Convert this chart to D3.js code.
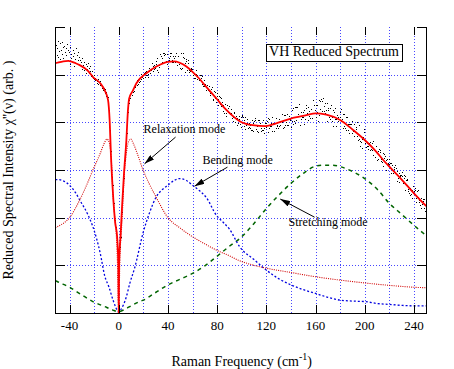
<!DOCTYPE html>
<html lang="en">

<head>
  <meta charset="utf-8">
  <title>VH Reduced Spectrum</title>
  <script src="https://cdn.jsdelivr.net/npm/d3@7/dist/d3.min.js"></script>
  <style>
    body { margin: 0; background: #fff; }
    svg { display: block; font-family: "Liberation Serif", "Times New Roman", serif; }
  </style>
</head>

<body>
  <div id="chart"></div>

  <script type="text/javascript">
    // values (Raman shift in cm-1, intensity in arb. units)
    var xTicks = [-40, 0, 40, 80, 120, 160, 200, 240];
    var xGrid = [-40, -20, 0, 20, 40, 60, 80, 100, 120, 140, 160, 180, 200, 220, 240];
    var yGrid = [1, 2, 3, 4, 5];
    var yTicks = [0, 1, 2, 3, 4, 5, 6];

    // relaxation mode (red dotted)
    var relaxation = [[-51.5, 1.79], [-50, 1.81], [-40, 2.0], [-31.7, 2.37], [-25, 2.75], [-21, 3.0], [-15, 3.35], [-12, 3.55],
      [-9.5, 3.65], [-7.5, 3.55], [-6, 3.2], [-4.9, 2.6], [-3.5, 2.1], [-2, 1.65], [-1.2, 1.2], [0, 0], [1, 1.2], [2, 1.65],
      [3, 2.1], [4.3, 2.8], [6.2, 3.35], [8, 3.6], [9.75, 3.65], [12, 3.55], [15, 3.35], [19.8, 3.0], [25, 2.7], [30, 2.45],
      [40, 2.0], [50, 1.78], [60, 1.6], [70, 1.45], [79.4, 1.32], [90, 1.2], [98, 1.1], [110, 1.0], [120, 0.94], [140, 0.85],
      [160, 0.76], [180, 0.69], [200, 0.63], [220, 0.58], [240, 0.54], [251, 0.53]];

    // bending mode (blue dotted)
    var bending = [[-51.5, 2.8], [-50, 2.8], [-45, 2.77], [-40, 2.68], [-35, 2.52], [-31.7, 2.37], [-25, 2.06], [-21, 1.81],
      [-15, 1.25], [-11.4, 0.78], [-8, 0.55], [-4.6, 0.27], [-0.5, 0.03], [0, 0.02], [1.4, 0.06], [6.2, 0.34], [9, 0.62],
      [13, 0.95], [20, 1.7], [25, 2.1], [30.6, 2.44], [35, 2.58], [40, 2.68], [45, 2.78], [49.6, 2.82], [55, 2.78], [60, 2.68],
      [65, 2.58], [71.3, 2.42], [79.4, 2.05], [85, 1.9], [90, 1.76], [98.3, 1.39], [110, 1.12], [120, 0.9], [130, 0.72],
      [140, 0.59], [150, 0.49], [160, 0.41], [170, 0.33], [180, 0.27], [190, 0.25], [200, 0.24], [210, 0.2], [220, 0.18],
      [230, 0.16], [240, 0.15], [251, 0.15]];

    // stretching mode (green dashed)
    var stretching = [[-51.5, 0.68], [-50, 0.66], [-40, 0.54], [-30, 0.38], [-21, 0.24], [-10, 0.12], [-4.6, 0.06], [0, 0.03],
      [5, 0.08], [10, 0.15], [17, 0.24], [20, 0.27], [30, 0.43], [40, 0.59], [50, 0.71], [60, 0.83], [70, 0.99], [79.4, 1.18],
      [90, 1.4], [98.3, 1.56], [110, 1.88], [120, 2.19], [130, 2.47], [140, 2.72], [150, 2.93], [160, 3.08], [167, 3.1],
      [174, 3.1], [180, 3.07], [190, 2.97], [200, 2.82], [210, 2.6], [220, 2.3], [230, 2.07], [240, 1.84], [251, 1.6]];

    // total fit (red solid)
    var fitTotal = [[-51.5, 5.24], [-50, 5.25], [-45, 5.28], [-41, 5.29], [-35, 5.24], [-31.7, 5.2], [-25, 5.08], [-20.9, 4.95],
      [-15, 4.82], [-11.4, 4.67], [-8.7, 4.47], [-7.3, 4.0], [-6.3, 3.3], [-4.9, 2.6], [-2.9, 1.9], [-1.3, 1.6], [-0.3, 1.0],
      [0, 0], [0.3, 1.0], [1.6, 1.67], [2.7, 2.23], [4.3, 2.93], [6.2, 3.62], [7.5, 4.25], [8.5, 4.5], [11.6, 4.67],
      [14.4, 4.82], [22.5, 5.03], [30.6, 5.17], [40, 5.27], [45, 5.28], [49.6, 5.25], [55, 5.17], [60, 5.06], [65, 4.93],
      [71, 4.75], [79.4, 4.5], [87.5, 4.26], [98, 4.03], [109, 3.94], [119.5, 3.92], [128, 3.98], [140, 4.08], [152.6, 4.15],
      [160, 4.19], [168.8, 4.16], [180, 4.05], [190.5, 3.84], [200, 3.63], [209.5, 3.38], [215, 3.21], [220, 3.07], [230, 2.8],
      [240, 2.51], [250, 2.24]];

    // measured spectrum (black dots)
    var spectrum = [
      [-51, 5.62], [-50.5, 5.41], [-50, 5.55], [-49.5, 5.71], [-49, 5.38], [-48.5, 5.49], [-48, 5.66], [-47.5, 5.33], [-47, 5.52],
      [-46.5, 5.44], [-46, 5.69], [-45.5, 5.58], [-45, 5.36], [-44.5, 5.61], [-44, 5.47], [-43.5, 5.29], [-43, 5.55], [-42.5, 5.42],
      [-42, 5.64], [-41.5, 5.52], [-41, 5.31], [-40.5, 5.47], [-40, 5.22], [-39.5, 5.58], [-39, 5.36], [-38.5, 5.44], [-38, 5.27],
      [-37.5, 5.51], [-37, 5.39], [-36.5, 5.19], [-36, 5.46], [-35.5, 5.33], [-35, 5.55], [-34.5, 5.24], [-34, 5.41], [-33.5, 5.3],
      [-33, 5.48], [-32.5, 5.21], [-32, 5.37], [-31.5, 5.31], [-31, 5.18], [-30.5, 5.27], [-30, 5.12], [-29.5, 5.35], [-29, 5.2],
      [-28.5, 5.09], [-28, 5.26], [-27.5, 5.15], [-27, 5.22], [-26.5, 5.04], [-26, 5.19], [-25.5, 5.11], [-25, 5.24], [-24.5, 5.03],
      [-24, 5.14], [-23.5, 5.08], [-23, 5.19], [-22.5, 4.98], [-22, 5.07], [-21.5, 4.99], [-21, 4.93], [-20.5, 4.91], [-20, 4.99],
      [-19.5, 4.88], [-19, 4.93], [-18.5, 4.9], [-18, 4.82], [-17.5, 4.86], [-17, 4.91], [-16.5, 4.8], [-16, 4.84], [-15.5, 4.78],
      [-15, 4.86], [-14.5, 4.8], [-14, 4.73], [-13.5, 4.77], [-13, 4.74], [-12.5, 4.68], [-12, 4.72], [-11.5, 4.7], [-11, 4.61],
      [-10.5, 4.63], [-10, 4.55], [-9.5, 4.49], [-9, 4.53], [-8.5, 4.37], [-8, 4.26], [-7.5, 4.03], [-7, 3.83], [-6.5, 3.4],
      [-6, 3.19], [-5.5, 2.86], [-5, 2.69], [-4.5, 2.43], [-4, 2.3], [-3.5, 2.07], [-3, 1.96], [-2.5, 1.8], [-2, 1.75],
      [-1.5, 1.61], [-1, 1.48], [-0.5, 1.25], [-0.25, 0.8], [0.25, 0.7], [0.5, 1.3],
      [1, 1.38], [1.5, 1.6], [2, 1.94], [2.5, 2.12], [3, 2.4], [3.5, 2.55], [4, 2.83], [4.5, 2.97], [5, 3.22], [5.5, 3.33],
      [6, 3.58], [6.5, 3.77], [7, 4.07], [7.5, 4.22], [8, 4.41], [8.5, 4.47], [9, 4.57], [9.5, 4.52], [10, 4.62], [10.5, 4.57],
      [11, 4.68], [11.5, 4.64], [12, 4.73], [12.5, 4.66], [13, 4.77], [13.5, 4.74], [14, 4.83], [14.5, 4.78], [15, 4.88],
      [15.5, 4.81], [16, 4.9], [16.5, 4.84], [17, 4.93], [17.5, 4.86], [18, 5.02], [18.5, 4.9], [19, 4.95], [19.5, 4.99],
      [20, 4.92], [20.5, 5.04], [21, 4.96], [21.5, 5.06], [22, 4.99], [22.5, 5.08], [23, 5.0], [23.5, 4.96], [24, 5.02],
      [24.5, 5.07], [25, 5.13], [25.5, 5.03], [26, 5.12], [26.5, 5.09], [27, 5.25], [27.5, 5.07], [28, 5.19], [28.5, 5.11],
      [29, 5.2], [29.5, 5.13], [30, 5.22],
      [30.5, 5.29], [31, 5.1], [31.5, 5.36], [32, 5.06], [32.5, 5.17], [33, 5.21], [33.5, 5.44], [34, 5.4], [34.5, 5.4],
      [35, 5.36], [35.5, 5.27], [36, 5.46], [36.5, 5.42], [37, 5.46], [37.5, 5.27], [38, 5.44], [38.5, 5.29], [39, 5.44],
      [39.5, 5.22], [40, 5.14], [40.5, 5.31], [41, 5.35], [41.5, 5.46], [42, 5.39], [42.5, 5.46], [43, 5.27], [43.5, 5.31],
      [44, 5.27], [44.5, 5.39], [45, 5.35], [45.5, 5.39], [46, 5.27], [46.5, 5.46], [47, 5.2], [47.5, 5.2], [48, 5.4],
      [48.5, 5.4], [49, 5.22], [49.5, 5.14], [50, 5.25], [50.5, 5.11], [51, 5.45], [51.5, 5.15], [52, 5.37], [52.5, 5.45],
      [53, 5.36], [53.5, 5.06], [54, 5.25], [54.5, 5.32], [55, 5.29], [55.5, 5.09], [56, 5.31], [56.5, 5.24], [57, 5.09],
      [57.5, 5.05], [58, 5.07], [58.5, 5.15], [59, 5.11], [59.5, 5.11], [60, 5.26],
      [60.5, 5.0], [61, 4.94], [61.5, 5.01], [62, 4.92], [62.5, 5.01], [63, 5.1], [63.5, 4.9], [64, 5.0], [64.5, 4.96],
      [65, 4.89], [65.5, 4.93], [66, 4.99], [66.5, 5.0], [67, 4.94], [67.5, 4.98], [68, 4.8], [68.5, 4.76], [69, 4.77],
      [69.5, 4.89], [70, 4.77], [70.5, 4.8], [71, 4.68], [71.5, 4.78], [72, 4.71], [72.5, 4.67], [73, 4.65], [73.5, 4.77],
      [74, 4.62], [74.5, 4.58], [75, 4.7], [75.5, 4.74], [76, 4.61], [76.5, 4.47], [77, 4.5], [77.5, 4.65], [78, 4.63],
      [78.5, 4.51], [79, 4.42], [79.5, 4.62], [80, 4.55], [80.5, 4.37], [81, 4.49], [81.5, 4.56], [82, 4.38], [82.5, 4.53],
      [83, 4.51], [83.5, 4.34], [84, 4.43], [84.5, 4.36], [85, 4.24], [85.5, 4.2], [86, 4.31], [86.5, 4.38], [87, 4.2],
      [87.5, 4.14], [88, 4.37], [88.5, 4.31], [89, 4.22], [89.5, 4.34], [90, 4.2], [90.5, 4.18], [91, 4.19], [91.5, 4.29],
      [92, 4.09], [92.5, 4.11], [93, 4.02], [93.5, 4.2], [94, 4.21], [94.5, 4.01], [95, 4.13], [95.5, 4.07], [96, 3.95],
      [96.5, 4.1], [97, 3.98], [97.5, 4.13], [98, 4.07], [98.5, 3.96], [99, 3.9], [99.5, 4.11], [100, 4.13],
      [100.5, 4.15], [101, 4.12], [101.5, 4.05], [102, 3.92], [102.5, 4.12], [103, 3.85], [103.5, 3.95], [104, 3.98],
      [104.5, 4.08], [105, 3.88], [105.5, 3.98], [106, 3.91], [106.5, 3.94], [107, 3.88], [107.5, 3.84], [108, 3.84],
      [108.5, 4.04], [109, 3.81], [109.5, 3.99], [110, 4.02], [110.5, 4.09], [111, 4.05], [111.5, 3.85], [112, 3.82],
      [112.5, 3.92], [113, 4.05], [113.5, 3.79], [114, 4.05], [114.5, 3.98], [115, 3.94], [115.5, 3.81], [116, 3.88],
      [116.5, 3.84], [117, 4.04], [117.5, 3.84], [118, 3.88], [118.5, 3.78], [119, 3.98], [119.5, 3.98], [120, 3.91],
      [120.5, 4.02], [121, 3.79], [121.5, 4.09], [122, 3.89], [122.5, 4.06], [123, 3.92], [123.5, 3.92], [124, 3.99],
      [124.5, 3.82], [125, 4.12], [125.5, 3.99], [126, 3.99], [126.5, 3.82], [127, 3.99], [127.5, 4.09], [128, 3.89],
      [128.5, 3.92], [129, 3.95], [129.5, 3.88], [130, 4.08], [130.5, 3.92], [131, 4.02], [131.5, 3.95], [132, 4.02],
      [132.5, 4.18], [133, 4.01], [133.5, 3.88], [134, 4.15], [134.5, 3.91], [135, 3.95], [135.5, 4.15], [136, 4.01],
      [136.5, 4.18], [137, 3.94], [137.5, 3.94], [138, 3.94], [138.5, 4.14], [139, 4.04], [139.5, 4.08], [140, 3.91],
      [140.5, 4.02], [141, 4.26], [141.5, 3.97], [142, 4.31], [142.5, 4.02], [143, 4.33], [143.5, 3.99], [144, 4.33],
      [144.5, 4.04], [145, 4.33], [145.5, 4.14], [146, 4.18], [146.5, 4.38], [147, 3.94], [147.5, 4.14], [148, 4.21],
      [148.5, 4.07], [149, 4.12], [149.5, 4.21], [150, 4.12], [150.5, 4.26], [151, 3.97], [151.5, 4.07], [152, 4.36],
      [152.5, 4.31], [153, 4.19], [153.5, 4.33], [154, 4.04], [154.5, 4.14], [155, 4.23], [155.5, 4.09], [156, 4.28],
      [156.5, 4.28], [157, 4.09], [157.5, 4.19], [158, 4.46], [158.5, 4.36], [159, 4.36], [159.5, 4.26], [160, 4.36],
      [160.5, 4.12], [161, 4.22], [161.5, 4.36], [162, 4.02], [162.5, 4.46], [163, 4.15], [163.5, 4.29], [164, 4.44],
      [164.5, 4.5], [165, 4.44], [165.5, 4.24], [166, 4.52], [166.5, 4.24], [167, 4.34], [167.5, 4.2], [168, 4.41],
      [168.5, 4.26], [169, 4.03], [169.5, 4.41], [170, 4.26], [170.5, 4.31], [171, 4.12], [171.5, 4.07], [172, 4.31],
      [172.5, 4.36], [173, 4.02], [173.5, 4.12], [174, 3.92], [174.5, 4.26], [175, 4.21], [175.5, 4.31], [176, 4.07],
      [176.5, 3.92], [177, 4.07], [177.5, 4.16], [178, 4.02], [178.5, 4.11], [179, 4.07], [179.5, 4.21], [180, 4.11],
      [180.5, 4.27], [181, 4.03], [181.5, 4.07], [182, 4.17], [182.5, 3.88], [183, 3.93], [183.5, 4.17], [184, 3.88],
      [184.5, 3.83], [185, 4.12], [185.5, 4.12], [186, 3.97], [186.5, 3.83], [187, 3.97], [187.5, 3.78], [188, 3.97],
      [188.5, 3.97], [189, 3.88], [189.5, 3.78], [190, 4.02], [190.5, 3.82], [191, 3.72], [191.5, 3.96], [192, 3.82],
      [192.5, 3.91], [193, 3.86], [193.5, 3.72], [194, 4.01], [194.5, 3.62], [195, 3.95], [195.5, 3.66], [196, 3.61],
      [196.5, 3.51], [197, 3.58], [197.5, 3.66], [198, 3.46], [198.5, 3.7], [199, 3.86], [199.5, 3.8], [200, 3.56],
      [200.5, 3.6], [201, 3.49], [201.5, 3.57], [202, 3.5], [202.5, 3.45], [203, 3.5], [203.5, 3.56], [204, 3.58],
      [204.5, 3.43], [205, 3.45], [205.5, 3.57], [206, 3.42], [206.5, 3.31], [207, 3.6], [207.5, 3.45], [208, 3.27],
      [208.5, 3.39], [209, 3.51], [209.5, 3.5], [210, 3.22], [210.5, 3.24], [211, 3.39], [211.5, 3.44], [212, 3.42],
      [212.5, 3.37], [213, 3.19], [213.5, 3.24], [214, 3.16], [214.5, 3.08], [215, 3.36], [215.5, 3.25], [216, 3.33],
      [216.5, 3.29], [217, 3.0], [217.5, 3.22], [218, 3.24], [218.5, 3.13], [219, 3.15], [219.5, 3.23], [220, 3.12],
      [220.5, 3.14], [221, 2.93], [221.5, 3.15], [222, 3.1], [222.5, 3.02], [223, 2.94], [223.5, 3.06], [224, 3.02],
      [224.5, 3.1], [225, 2.92], [225.5, 3.04], [226, 2.76], [226.5, 2.98], [227, 2.83], [227.5, 2.75], [228, 2.94],
      [228.5, 2.89], [229, 2.88], [229.5, 2.9], [230, 2.95], [230.5, 2.87], [231, 2.72], [231.5, 2.84], [232, 2.89],
      [232.5, 2.88], [233, 2.57], [233.5, 2.79], [234, 2.8], [234.5, 2.82], [235, 2.61], [235.5, 2.56], [236, 2.51],
      [236.5, 2.63], [237, 2.48], [237.5, 2.5], [238, 2.42], [238.5, 2.57], [239, 2.66], [239.5, 2.51], [240, 2.56],
      [240.5, 2.58], [241, 2.63], [241.5, 2.32], [242, 2.41], [242.5, 2.56], [243, 2.58], [243.5, 2.44], [244, 2.32],
      [244.5, 2.38], [245, 2.26], [245.5, 2.42], [246, 2.2], [246.5, 2.29], [247, 2.34], [247.5, 2.39], [248, 2.21],
      [248.5, 2.4], [249, 2.15], [249.5, 2.24], [250, 2.29]];

    // annotation labels and arrows, in data units
    var notes = [
      { text: "Relaxation mode", x: 20.2, y: 3.78, from: [46.2, 3.69], to: [21, 3.13] },
      { text: "Bending mode", x: 68.1, y: 3.13, from: [88.4, 3.06], to: [61.6, 2.66] },
      { text: "Stretching mode", x: 138.1, y: 1.83, from: [159.2, 2.01], to: [131.3, 2.39] }
    ];

    var width = 454, height = 369;
    var margin = { top: 27, right: 27, bottom: 56, left: 55 };

    var svg = d3.select("#chart").append("svg")
      .attr("width", width)
      .attr("height", height);

    var x = d3.scaleLinear()
      .domain([-51.8, 250.6])
      .range([margin.left, width - margin.right]);
    var y = d3.scaleLinear()
      .domain([0, 6])
      .range([height - margin.bottom, margin.top]);

    var x0 = x.range()[0], x1 = x.range()[1];
    var y0 = y.range()[0], y1 = y.range()[1];

    var defs = svg.append("defs");
    defs.append("clipPath").attr("id", "plot")
      .append("rect")
      .attr("x", x0).attr("y", y1)
      .attr("width", x1 - x0).attr("height", y0 - y1);
    defs.append("marker")
      .attr("id", "head")
      .attr("markerUnits", "userSpaceOnUse")
      .attr("viewBox", "0 0 10 6")
      .attr("refX", 10).attr("refY", 3)
      .attr("markerWidth", 10).attr("markerHeight", 6)
      .attr("orient", "auto")
      .append("path")
      .attr("d", "M0,0L10,3L0,6Z")
      .attr("fill", "#000");

    // grid
    svg.append("g").selectAll("line")
      .data(xGrid)
      .enter().append("line")
      .attr("x1", function (d) { return Math.round(x(d)) + 0.5; })
      .attr("x2", function (d) { return Math.round(x(d)) + 0.5; })
      .attr("y1", y0).attr("y2", y1)
      .attr("stroke", "#4646ff").attr("stroke-dasharray", "1,2");
    svg.append("g").selectAll("line")
      .data(yGrid)
      .enter().append("line")
      .attr("y1", function (d) { return Math.round(y(d)) + 0.5; })
      .attr("y2", function (d) { return Math.round(y(d)) + 0.5; })
      .attr("x1", x0).attr("x2", x1)
      .attr("stroke", "#4646ff").attr("stroke-dasharray", "1,2");

    var line = d3.line()
      .x(function (d) { return x(d[0]); })
      .y(function (d) { return y(d[1]); })
      .curve(d3.curveMonotoneX);

    var plot = svg.append("g").attr("clip-path", "url(#plot)");

    plot.append("path").datum(stretching)
      .attr("d", line).attr("fill", "none")
      .attr("stroke", "#006400").attr("stroke-width", 1.5).attr("stroke-dasharray", "4,4");
    plot.append("path").datum(bending)
      .attr("d", line).attr("fill", "none")
      .attr("stroke", "#0000e0").attr("stroke-width", 1.3).attr("stroke-dasharray", "2,2");
    plot.append("path").datum(relaxation)
      .attr("d", line).attr("fill", "none")
      .attr("stroke", "#d00000").attr("stroke-width", 1.1).attr("stroke-dasharray", "1,1.2");

    // crisp pixel dots like the original plotter output
    plot.append("g").attr("shape-rendering", "crispEdges").selectAll("rect")
      .data(spectrum)
      .enter().append("rect")
      .attr("x", function (d) { return Math.round(x(d[0])); })
      .attr("y", function (d) { return Math.round(y(d[1])); })
      .attr("width", 1.3).attr("height", 1.3)
      .attr("fill", "#000");

    plot.append("path").datum(fitTotal)
      .attr("d", line).attr("fill", "none")
      .attr("stroke", "#ff0000").attr("stroke-width", 1.8);

    // frame: left, bottom, right (no top line)
    var frame = svg.append("g").attr("stroke", "#000").attr("stroke-width", 1);
    frame.append("line").attr("x1", x0 + 0.5).attr("x2", x0 + 0.5).attr("y1", y1).attr("y2", y0 + 0.5);
    frame.append("line").attr("x1", x1 - 0.5).attr("x2", x1 - 0.5).attr("y1", y1).attr("y2", y0 + 0.5);
    frame.append("line").attr("x1", x0).attr("x2", x1).attr("y1", y0 + 0.5).attr("y2", y0 + 0.5);

    // ticks
    frame.selectAll(".yt").data(yTicks).enter().append("line")
      .attr("x1", x0).attr("x2", x0 + 10)
      .attr("y1", function (d) { return Math.round(y(d)) + 0.5; })
      .attr("y2", function (d) { return Math.round(y(d)) + 0.5; });
    frame.selectAll(".yr").data(yTicks).enter().append("line")
      .attr("x1", x1).attr("x2", x1 - 10)
      .attr("y1", function (d) { return Math.round(y(d)) + 0.5; })
      .attr("y2", function (d) { return Math.round(y(d)) + 0.5; });
    frame.selectAll(".xb").data(xTicks).enter().append("line")
      .attr("x1", function (d) { return Math.round(x(d)) + 0.5; })
      .attr("x2", function (d) { return Math.round(x(d)) + 0.5; })
      .attr("y1", y0).attr("y2", y0 - 8);
    frame.selectAll(".xt").data(xTicks).enter().append("line")
      .attr("x1", function (d) { return Math.round(x(d)) + 0.5; })
      .attr("x2", function (d) { return Math.round(x(d)) + 0.5; })
      .attr("y1", y1).attr("y2", y1 + 8);

    svg.append("g").selectAll("text")
      .data(xTicks)
      .enter().append("text")
      .attr("x", function (d) { return x(d); })
      .attr("y", 330)
      .attr("text-anchor", "middle")
      .attr("font-size", 13)
      .text(function (d) { return d; });

    // axis titles
    var xt = svg.append("text")
      .attr("x", x(100))
      .attr("y", 366)
      .attr("text-anchor", "middle")
      .attr("font-size", 14);
    xt.append("tspan").text("Raman Frequency  (cm");
    xt.append("tspan").attr("font-size", 10).attr("dy", -6).text("-1");
    xt.append("tspan").attr("dy", 6).text(")");

    svg.append("text")
      .attr("transform", "translate(13," + y(3) + ") rotate(-90)")
      .attr("text-anchor", "middle")
      .attr("font-size", 14)
      .text("Reduced Spectral Intensity  \u03c7''(\u03bd)  (arb. )");

    // legend box
    var box = svg.append("g");
    var boxText = box.append("text")
      .attr("x", x(175))
      .attr("y", y(5.39))
      .attr("text-anchor", "middle")
      .attr("font-size", 14)
      .text("VH Reduced Spectrum");
    var bb = boxText.node().getBBox();
    box.insert("rect", "text")
      .attr("x", Math.round(bb.x - 3) + 0.5)
      .attr("y", Math.round(bb.y) + 0.5)
      .attr("width", Math.round(bb.width + 6))
      .attr("height", Math.round(bb.height + 2))
      .attr("fill", "#fff")
      .attr("stroke", "#000");

    // mode annotations
    var ann = svg.append("g");
    ann.selectAll("line")
      .data(notes)
      .enter().append("line")
      .attr("x1", function (d) { return x(d.from[0]); })
      .attr("y1", function (d) { return y(d.from[1]); })
      .attr("x2", function (d) { return x(d.to[0]); })
      .attr("y2", function (d) { return y(d.to[1]); })
      .attr("stroke", "#000")
      .attr("marker-end", "url(#head)");
    ann.selectAll("text")
      .data(notes)
      .enter().append("text")
      .attr("x", function (d) { return x(d.x); })
      .attr("y", function (d) { return y(d.y); })
      .attr("font-size", 12)
      .text(function (d) { return d.text; });
  </script>
</body>
</html>
